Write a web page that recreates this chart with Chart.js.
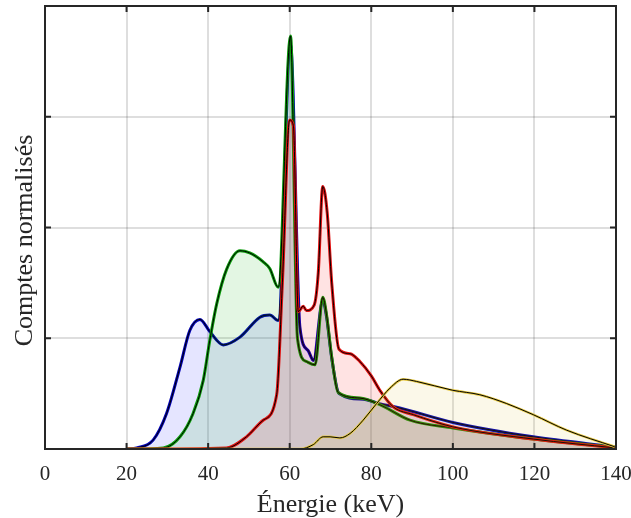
<!DOCTYPE html>
<html>
<head>
<meta charset="utf-8">
<script src="https://cdn.jsdelivr.net/npm/chart.js@4.4.0/dist/chart.umd.min.js"></script>
<style>
  html, body { margin: 0; padding: 0; background: #fff; }
  #wrap { width: 631px; height: 518px; }
</style>
</head>
<body>
<div id="wrap"><canvas id="spectre"></canvas></div>
<script>
// x tick labels (keV)
const xTicks = [0, 20, 40, 60, 80, 100, 120, 140];

// blue spectrum
const blueE = [20, 22.5, 26.5, 29.8, 33.1, 35.5, 38, 40.4, 43.7, 47.8, 52.7, 55.1, 57.2, 60.2, 62.5, 64.5, 65.8, 68.1, 69, 70.3, 72.1, 78, 82, 87, 100, 119.7, 139.7];
const blueCounts = [0, 0.01, 0.08, 0.32, 0.74, 1.07, 1.17, 1.06, 0.94, 1.01, 1.19, 1.21, 1.16, 3.65, 1.1, 0.89, 0.8, 1.34, 1.2, 0.82, 0.5, 0.45, 0.41, 0.37, 0.24, 0.11, 0.02];

// green spectrum
const greenE = [20, 29, 33.1, 36.3, 38.8, 40.4, 42.1, 44.5, 47.8, 50.2, 53.5, 55.1, 57.2, 60.2, 61.9, 64.1, 66.2, 68.1, 69, 70.3, 71.9, 77.2, 82.1, 89.5, 100, 119.7, 139.7];
const greenCounts = [0, 0.01, 0.11, 0.32, 0.62, 0.98, 1.31, 1.62, 1.79, 1.77, 1.69, 1.63, 1.46, 3.73, 1.0, 0.79, 0.76, 1.37, 1.22, 0.83, 0.51, 0.46, 0.4, 0.26, 0.19, 0.09, 0.015];

// red spectrum
const redE = [20, 44.5, 49.4, 53.5, 56.8, 58.2, 60, 60.9, 62.1, 63.3, 64.1, 66, 67, 68.1, 69.2, 70.3, 72.1, 74.8, 77.2, 80, 82.1, 85.4, 90.3, 100, 119.7, 139.7];
const redCounts = [0, 0.01, 0.11, 0.26, 0.49, 1.5, 2.97, 2.92, 1.24, 1.29, 1.25, 1.3, 1.59, 2.37, 2.13, 1.5, 0.9, 0.86, 0.79, 0.66, 0.53, 0.38, 0.31, 0.2, 0.09, 0.01];

// yellow spectrum
const yellowE = [20, 62.5, 65.8, 68.2, 69.9, 72.3, 74.8, 78, 81.3, 84.6, 87.8, 91.1, 100, 106.6, 113.2, 119.7, 127.9, 139.7];
const yellowCounts = [0, 0, 0.04, 0.11, 0.11, 0.1, 0.14, 0.26, 0.41, 0.55, 0.63, 0.61, 0.53, 0.49, 0.41, 0.31, 0.17, 0.02];

const serif = '"Liberation Serif", "Times New Roman", serif';

function pts(xs, ys) {
  return xs.map((x, i) => ({ x: x, y: ys[i] }));
}

// colored line + filled area, then a thin black line on top
const series = [
  { e: blueE, c: blueCounts, line: '#0000b4', fill: 'rgba(0,0,255,0.1)', w: 3 },
  { e: greenE, c: greenCounts, line: '#0a9a0a', fill: 'rgba(0,170,0,0.11)', w: 3 },
  { e: redE, c: redCounts, line: '#e01010', fill: 'rgba(255,0,0,0.11)', w: 3 },
  { e: yellowE, c: yellowCounts, line: '#e6c840', fill: 'rgba(220,190,40,0.1)', w: 2.5 },
];

const datasets = [];
series.forEach((s, i) => {
  const base = 20 - i * 4;
  datasets.push({
    data: pts(s.e, s.c),
    borderColor: s.line,
    backgroundColor: s.fill,
    borderWidth: s.w,
    fill: 'origin',
    pointRadius: 0,
    cubicInterpolationMode: 'monotone',
    order: base,
  });
  datasets.push({
    data: pts(s.e, s.c),
    borderColor: '#000',
    borderWidth: 1,
    fill: false,
    pointRadius: 0,
    cubicInterpolationMode: 'monotone',
    order: base - 1,
  });
});

// box around the plot and inward tick marks
const framePlugin = {
  id: 'frame',
  afterDatasetsDraw(chart) {
    const { ctx, chartArea: a, scales: { x, y } } = chart;
    ctx.save();
    ctx.strokeStyle = '#262626';
    ctx.lineWidth = 2;
    ctx.strokeRect(a.left, a.top, a.right - a.left, a.bottom - a.top);
    ctx.beginPath();
    xTicks.forEach(v => {
      const px = x.getPixelForValue(v);
      ctx.moveTo(px, a.bottom); ctx.lineTo(px, a.bottom - 6);
      ctx.moveTo(px, a.top); ctx.lineTo(px, a.top + 6);
    });
    [1, 2, 3].forEach(v => {
      const py = y.getPixelForValue(v);
      ctx.moveTo(a.left, py); ctx.lineTo(a.left + 6, py);
      ctx.moveTo(a.right, py); ctx.lineTo(a.right - 6, py);
    });
    ctx.stroke();
    ctx.restore();
  }
};

new Chart(document.getElementById('spectre'), {
  type: 'line',
  data: { datasets: datasets },
  plugins: [framePlugin],
  options: {
    responsive: true,
    maintainAspectRatio: false,
    animation: false,
    layout: { padding: { left: 0, right: 0, top: 6, bottom: 0 } },
    plugins: { legend: { display: false }, tooltip: { enabled: false } },
    scales: {
      x: {
        type: 'linear',
        min: 0,
        max: 140,
        afterBuildTicks: axis => { axis.ticks = xTicks.map(v => ({ value: v })); },
        afterFit: axis => {
          axis.height = 69;
          axis.paddingLeft = 0;
          axis.paddingRight = 15;
        },
        grid: { color: 'rgba(0,0,0,0.13)', lineWidth: 2, drawTicks: false },
        border: { display: false },
        ticks: { color: '#262626', padding: 13, font: { family: serif, size: 21 } },
        title: {
          display: true,
          text: 'Énergie (keV)',
          color: '#262626',
          padding: { top: 0, bottom: -3 },
          font: { family: serif, size: 26 },
        },
      },
      y: {
        min: 0,
        max: 4,
        afterFit: axis => { axis.width = 45; },
        grid: { color: 'rgba(0,0,0,0.13)', lineWidth: 2, drawTicks: false },
        border: { display: false },
        ticks: { display: false, stepSize: 1 },
        title: {
          display: true,
          text: 'Comptes normalisés    ',
          color: '#262626',
          padding: { top: 10, bottom: 0 },
          font: { family: serif, size: 26 },
        },
      },
    },
  },
});
</script>
</body>
</html>
